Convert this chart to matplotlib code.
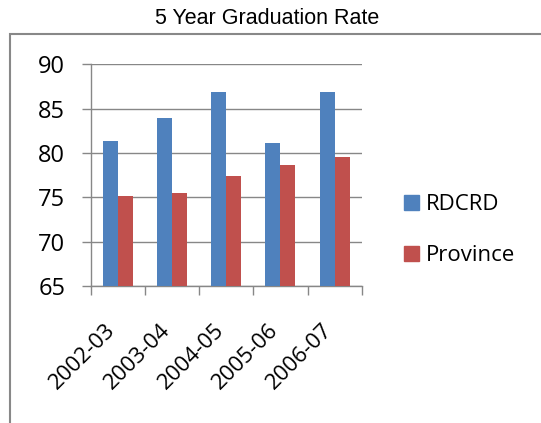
import numpy as np
import matplotlib
matplotlib.use('Agg')
import matplotlib.pyplot as plt
import matplotlib.transforms as mtrans
from matplotlib.patches import Rectangle, Patch

years = ['2002-03', '2003-04', '2004-05', '2005-06', '2006-07']
rdcrd = [81.4, 84.0, 86.9, 81.1, 86.9]
province = [75.2, 75.5, 77.4, 78.6, 79.5]

blue = '#4F81BD'
red = '#C0504D'
grey = '#878787'

fig = plt.figure(figsize=(5.41, 4.23), dpi=100)
ax = fig.add_axes([0.1682, 0.3239, 0.5004, 0.5241])

x = np.arange(len(years))
w = 0.277
ax.bar(x - w/2, rdcrd, w, color=blue, zorder=3)
ax.bar(x + w/2, province, w, color=red, zorder=3)

ax.set_ylim(65, 90)
ax.set_xlim(-0.5, len(years) - 0.5)
ax.set_yticks(range(65, 91, 5))
ax.yaxis.grid(True, color=grey, lw=1)
ax.set_axisbelow(True)

# category ticks at the boundaries, labels at the centres
ax.set_xticks(x)
ax.set_xticks(np.arange(-0.5, len(years), 1), minor=True)
ax.tick_params(axis='x', which='major', length=0, pad=24)
ax.tick_params(axis='x', which='minor', length=6.5, color=grey, width=1, direction='out')
ax.tick_params(axis='y', length=6.5, color=grey, width=1, direction='out', pad=12)
ax.set_xticklabels(years, rotation=45, ha='right', va='top', rotation_mode='anchor',
                   fontsize=16, family='Open Sans')
shift = mtrans.ScaledTranslation(-0.13, 0, fig.dpi_scale_trans)
for lab in ax.get_xticklabels():
    lab.set_transform(lab.get_transform() + shift)
for lab in ax.get_yticklabels():
    lab.set_family('Open Sans')
    lab.set_fontsize(17)

for s in ['top', 'right']:
    ax.spines[s].set_visible(False)
for s in ['left', 'bottom']:
    ax.spines[s].set_color(grey)
    ax.spines[s].set_linewidth(1)

handles = [Patch(color=blue, label='RDCRD'), Patch(color=red, label='Province')]
fig.legend(handles=handles, loc='center left', bbox_to_anchor=(0.747, 0.4553),
           frameon=False, borderpad=0, borderaxespad=0, handlelength=0.68,
           handleheight=0.68, handletextpad=0.3, labelspacing=1.35,
           prop={'family': 'Open Sans', 'size': 16})

fig.text(0.494, 0.957, '5 Year Graduation Rate', ha='center', va='center',
         family='Liberation Sans', fontsize=15.5)

# chart area border (cut off at right and bottom)
fig.add_artist(Rectangle((0.0176, -0.5), 2, 0.9196 + 0.5, transform=fig.transFigure,
                         fill=False, edgecolor='#888888', lw=1.5))

fig.savefig('out.png', dpi=100)
